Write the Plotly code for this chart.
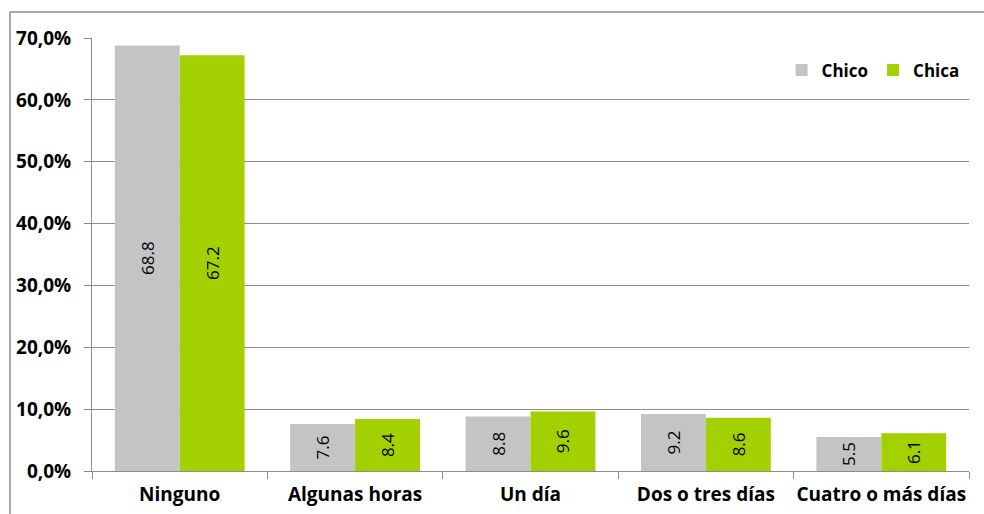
import plotly.graph_objects as go

categories = ["Ninguno", "Algunas horas", "Un día", "Dos o tres días", "Cuatro o más días"]
chico = [68.8, 7.6, 8.8, 9.2, 5.5]
chica = [67.2, 8.4, 9.6, 8.6, 6.1]
tick_vals = [0, 10, 20, 30, 40, 50, 60, 70]
tick_text = [f"{v:.1f}%".replace(".", ",") for v in tick_vals]

W, H = 984, 514
L, R, T, B = 92, 15, 38, 43
pw = W - L - R
ph = H - T - B

font_family = "Open Sans, DejaVu Sans, sans-serif"

fig = go.Figure()
for name, vals, color in [("Chico", chico, "#C4C4C4"), ("Chica", chica, "#A3D000")]:
    fig.add_trace(go.Bar(
        x=categories, y=vals, name=name,
        marker=dict(color=color, line=dict(width=0)),
        text=[f"{v:.1f}" for v in vals],
        textposition="inside", insidetextanchor="middle", textangle=-90,
        textfont=dict(family=font_family, size=17, color="black"),
        constraintext="none",
    ))

fig.update_layout(
    width=W, height=H,
    margin=dict(l=L, r=R, t=T, b=B, autoexpand=False),
    paper_bgcolor="white", plot_bgcolor="white",
    barmode="group", bargap=0.26, bargroupgap=0,
    font=dict(family=font_family, color="black"),
    showlegend=True,
    legend=dict(orientation="h", x=0.995, xanchor="right", y=0.925, yanchor="middle",
                font=dict(family=font_family, size=17, color="black", weight="bold"),
                bgcolor="rgba(0,0,0,0)", traceorder="normal"),
    uniformtext=dict(mode=False),
)
fig.update_xaxes(
    showline=True, linecolor="#8C8C8C", linewidth=1,
    ticks="outside", tickson="boundaries", ticklen=7, tickcolor="#8C8C8C",
    tickfont=dict(family=font_family, size=19, color="black", weight="bold"),
    tickangle=0, ticklabelstandoff=6, automargin=False,
    showgrid=False,
)
fig.update_yaxes(
    range=[0, 70], tickvals=tick_vals, ticktext=tick_text,
    showline=True, linecolor="#8C8C8C", linewidth=1,
    ticks="outside", ticklen=7, tickcolor="#8C8C8C",
    showgrid=True, gridcolor="#8C8C8C", gridwidth=1,
    zeroline=False, ticklabelstandoff=9, automargin=False,
    tickfont=dict(family=font_family, size=19, color="black", weight="bold"),
)

# chart border (left and top edges visible)
bx0 = (10 - L) / pw
by1 = 1 + (T - 12) / ph
by0 = -(H - T - ph + 10) / ph
fig.add_shape(type="line", xref="paper", yref="paper", x0=bx0, x1=bx0, y0=by0, y1=by1,
              line=dict(color="#8C8C8C", width=1.5))
fig.add_shape(type="line", xref="paper", yref="paper", x0=bx0, x1=(W + 5 - L) / pw, y0=by1, y1=by1,
              line=dict(color="#8C8C8C", width=1.5))

fig.write_html("out.html", config={"displayModeBar": False},
               post_script="document.body.style.margin='0';document.body.style.overflow='hidden';")
